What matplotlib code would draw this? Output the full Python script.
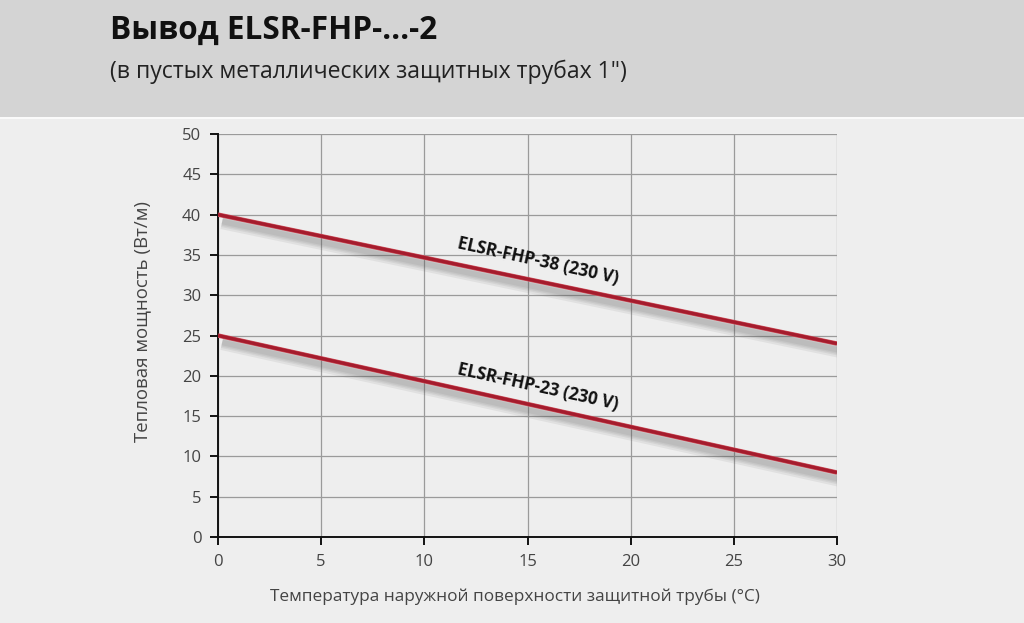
import numpy as np
import matplotlib.pyplot as plt
import matplotlib.patheffects as pe
from matplotlib.patches import Rectangle

plt.rcParams['font.family'] = ['Open Sans', 'DejaVu Sans']

# данные
temp = [0, 30]
p38 = [40, 24]
p23 = [25, 8]
label38 = "ELSR-FHP-38 (230 V)"
label23 = "ELSR-FHP-23 (230 V)"
xticks = [0, 5, 10, 15, 20, 25, 30]
yticks = [0, 5, 10, 15, 20, 25, 30, 35, 40, 45, 50]

fig = plt.figure(figsize=(10.24, 6.23), dpi=100)
fig.patch.set_facecolor("#eeeeee")

# серая шапка
fig.patches.append(Rectangle((0, 1 - 117 / 623), 1, 117 / 623, transform=fig.transFigure,
                             facecolor="#d4d4d4", edgecolor="none", zorder=0))
fig.patches.append(Rectangle((0, 1 - 119 / 623), 1, 2 / 623, transform=fig.transFigure,
                             facecolor="#fafafa", edgecolor="none", zorder=0))

fig.text(110 / 1024, 1 - 30 / 623, "Вывод ELSR-FHP-…-2", fontsize=22.7, fontweight="bold",
         va="center", ha="left", color="#111111")
fig.text(110 / 1024, 1 - 72 / 623, "(в пустых металлических защитных трубах 1\")", fontsize=16.6,
         va="center", ha="left", color="#222222")

ax = fig.add_axes([218 / 1024, 86 / 623, 619 / 1024, 403 / 623])
ax.set_facecolor("#eeeeee")

# размытая тень под линиями
shadow = [pe.SimpleLineShadow(offset=(3, -5), shadow_color="#555555", alpha=0.09, linewidth=w)
          for w in (11, 8, 6, 4)]
shadow.append(pe.Stroke(linewidth=3.2, foreground="#d0505c"))
shadow.append(pe.Normal())
for vals in (p38, p23):
    ax.plot(temp, vals, color="#a51c2d", lw=2.4, solid_capstyle="butt",
            path_effects=shadow, zorder=3)

ax.text(15.5, 34.2, label38, rotation=-12.5, ha="center", va="center",
        fontsize=12.3, fontweight="bold", color="#111111")
ax.text(15.5, 18.6, label23, rotation=-12.5, ha="center", va="center",
        fontsize=12.3, fontweight="bold", color="#111111")

ax.set_xlim(0, 30)
ax.set_ylim(0, 50)
ax.set_xticks(xticks)
ax.set_yticks(yticks)
ax.grid(True, color="#9a9a9a", lw=0.9)
ax.set_axisbelow(True)
for s in ("top", "right"):
    ax.spines[s].set_visible(False)
for s in ("left", "bottom"):
    ax.spines[s].set_linewidth(1.4)
    ax.spines[s].set_color("#111111")
ax.tick_params(direction="out", length=6, width=1.4, color="#111111",
               labelsize=12, labelcolor="#444444", pad=6)

ax.set_ylabel("Тепловая мощность (Вт/м)", fontsize=13.4, color="#444444")
ax.yaxis.set_label_coords(-0.108, 0.535)
ax.set_xlabel("Температура наружной поверхности защитной трубы (°C)", fontsize=12.4,
              color="#444444")
ax.xaxis.set_label_coords(0.479, -0.128)

fig.savefig("out.png", dpi=100, facecolor=fig.get_facecolor())
